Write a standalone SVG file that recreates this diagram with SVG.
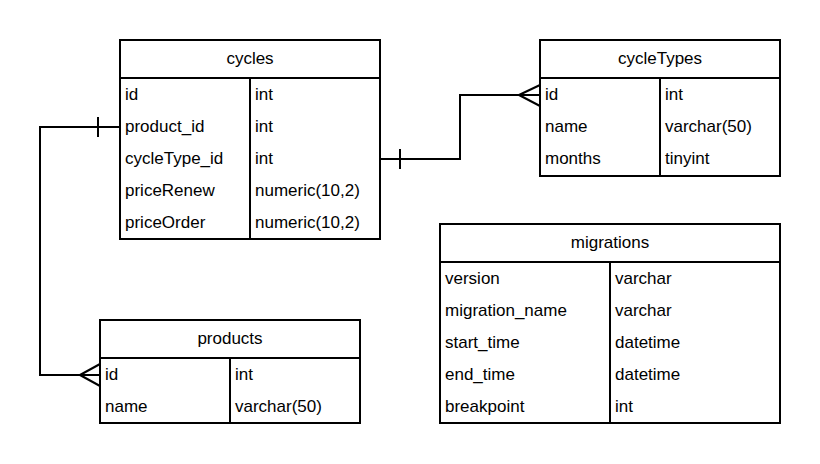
<svg xmlns="http://www.w3.org/2000/svg" width="820" height="464" viewBox="0 0 820 464">
<style>
.box{fill:#fff;stroke:#000;stroke-width:2}
.ln{fill:none;stroke:#000;stroke-width:2}
text{font-family:"Liberation Sans",Arial,sans-serif;font-size:17px;fill:#000}
.h{text-anchor:middle}
</style>
<rect width="820" height="464" fill="#fff"/>
<g id="connectors">
<path class="ln" d="M120,127 H40 V375 H100"/>
<path class="ln" d="M98,117 V137"/>
<path class="ln" d="M80,375 L100,364 M80,375 L100,386"/>
<path class="ln" d="M380,159 H460 V95 H540"/>
<path class="ln" d="M400,149 V169"/>
<path class="ln" d="M519,95 L540,85 M519,95 L540,106"/>
</g>
<g id="cycles">
<rect class="box" x="120" y="40" width="260" height="199"/>
<path class="ln" d="M120,78 H380 M250,78 V239"/>
<text class="h" x="250" y="64">cycles</text>
<text x="125" y="100">id</text><text x="255" y="100">int</text>
<text x="125" y="132">product_id</text><text x="255" y="132">int</text>
<text x="125" y="164">cycleType_id</text><text x="255" y="164">int</text>
<text x="125" y="196">priceRenew</text><text x="255" y="196">numeric(10,2)</text>
<text x="125" y="228">priceOrder</text><text x="255" y="228">numeric(10,2)</text>
</g>
<g id="cycleTypes">
<rect class="box" x="540" y="40" width="240" height="136"/>
<path class="ln" d="M540,78 H780 M660,78 V176"/>
<text class="h" x="660" y="64">cycleTypes</text>
<text x="545" y="100">id</text><text x="665" y="100">int</text>
<text x="545" y="132">name</text><text x="665" y="132">varchar(50)</text>
<text x="545" y="164">months</text><text x="665" y="164">tinyint</text>
</g>
<g id="migrations">
<rect class="box" x="440" y="224" width="340" height="199"/>
<path class="ln" d="M440,262 H780 M610,262 V423"/>
<text class="h" x="610" y="248">migrations</text>
<text x="445" y="284">version</text><text x="615" y="284">varchar</text>
<text x="445" y="316">migration_name</text><text x="615" y="316">varchar</text>
<text x="445" y="348">start_time</text><text x="615" y="348">datetime</text>
<text x="445" y="380">end_time</text><text x="615" y="380">datetime</text>
<text x="445" y="412">breakpoint</text><text x="615" y="412">int</text>
</g>
<g id="products">
<rect class="box" x="100" y="320" width="260" height="103"/>
<path class="ln" d="M100,358 H360 M230,358 V423"/>
<text class="h" x="230" y="344">products</text>
<text x="105" y="380">id</text><text x="235" y="380">int</text>
<text x="105" y="412">name</text><text x="235" y="412">varchar(50)</text>
</g>
</svg>
